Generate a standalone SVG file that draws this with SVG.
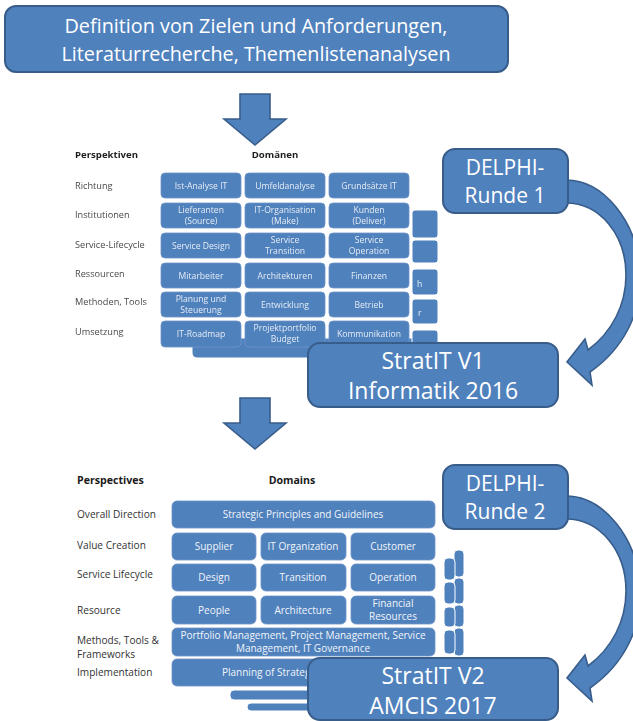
<svg xmlns="http://www.w3.org/2000/svg" width="633" height="721" viewBox="0 0 633 721">
  <style>
    .box { fill: #4F81BD; stroke: #385D8A; stroke-width: 2; }
    .btxt { font-family: "Open Sans", "Noto Sans", sans-serif; fill: #FFFFFF; text-anchor: middle; }
    .cell { fill: #4F81BD; stroke: #6F93C6; stroke-width: 0.8; }
    .ctxt { font-family: "Open Sans", "Noto Sans", sans-serif; fill: #E6ECF5; text-anchor: middle; font-size: 8.6px; }
    .ctxt2 { font-family: "Open Sans", "Noto Sans", sans-serif; fill: #F2F5FA; text-anchor: middle; font-size: 10px; }
    .lbl { font-family: "Open Sans", "Noto Sans", sans-serif; fill: #4A4A4A; font-size: 9.2px; }
    .lbl2 { font-family: "Open Sans", "Noto Sans", sans-serif; fill: #333333; font-size: 10.1px; }
    .head { font-family: "Open Sans", "Noto Sans", sans-serif; fill: #1F1F1F; font-size: 9.6px; font-weight: bold; }
    .head2 { font-family: "Open Sans", "Noto Sans", sans-serif; fill: #1A1A1A; font-size: 10.6px; font-weight: bold; }
    .arrow { fill: #4F81BD; stroke: #385D8A; stroke-width: 1.6; stroke-linejoin: miter; }
    .stack { fill: #4F81BD; stroke: #FFFFFF; stroke-width: 1; }
  </style>
  <defs>
    <!-- block arrow pointing down, origin at top centre of the shaft -->
    <path id="downArrow" d="M -15,0 L 15,0 L 15,25 L 31,25 L 0,51 L -31,25 L -15,25 Z"/>
    <!-- curved feedback arrow from a DELPHI round to its StratIT version -->
    <path id="loopArrow" d="M 566,180 C 604,180 636,222 640,268 C 644,312 622,350 590,372 L 592,385 L 567,362 L 585,339 L 588,350 C 612,332 626,305 626,275 C 626,235 600,203 566,203 Z"/>
    <!-- the older framework is a low-resolution screenshot -->
    <filter id="soft" x="-5%" y="-5%" width="110%" height="110%">
      <feGaussianBlur stdDeviation="0.35"/>
    </filter>
  </defs>

  <rect width="633" height="721" fill="#FFFFFF"/>

  <!-- connectors -->
  <g id="connectors">
    <use href="#downArrow" class="arrow" transform="translate(255,94)"/>
    <use href="#downArrow" class="arrow" transform="translate(255,398)"/>
    <use href="#loopArrow" class="arrow"/>
    <use href="#loopArrow" class="arrow" transform="translate(0,316)"/>
  </g>

  <!-- start node -->
  <g id="node-definition">
    <rect class="box" x="5" y="6" width="503" height="66" rx="11"/>
    <text class="btxt" x="256" y="33" font-size="20" textLength="383" lengthAdjust="spacingAndGlyphs">Definition von Zielen und Anforderungen,</text>
    <text class="btxt" x="256" y="61" font-size="20" textLength="389" lengthAdjust="spacingAndGlyphs">Literaturrecherche, Themenlistenanalysen</text>
  </g>

  <!-- framework version 1 (German) -->
  <g id="node-framework-v1" filter="url(#soft)">
    <!-- slides stacked behind -->
    <rect class="stack" x="192" y="338" width="240" height="20" rx="5"/>
    <rect class="stack" x="412" y="210" width="26" height="28" rx="3"/>
    <rect class="stack" x="412" y="240" width="26" height="23" rx="3"/>
    <rect class="stack" x="412" y="269" width="26" height="26" rx="3"/>
    <rect class="stack" x="412" y="299" width="26" height="25" rx="3"/>
    <rect class="stack" x="412" y="330" width="26" height="22" rx="3"/>
    <text class="ctxt" x="417" y="287" style="text-anchor:start">h</text>
    <text class="ctxt" x="418" y="316" style="text-anchor:start">r</text>

    <text class="head" x="75" y="158">Perspektiven</text>
    <text class="head" x="275" y="158" text-anchor="middle">Domänen</text>

    <text class="lbl" x="75" y="189">Richtung</text>
    <text class="lbl" x="75" y="218">Institutionen</text>
    <text class="lbl" x="75" y="248">Service-Lifecycle</text>
    <text class="lbl" x="75" y="277">Ressourcen</text>
    <text class="lbl" x="75" y="305">Methoden, Tools</text>
    <text class="lbl" x="75" y="335">Umsetzung</text>

    <rect class="cell" x="161" y="173" width="80" height="25" rx="4"/>
    <rect class="cell" x="245" y="173" width="80" height="25" rx="4"/>
    <rect class="cell" x="329" y="173" width="80" height="25" rx="4"/>
    <text class="ctxt" x="201" y="189">Ist-Analyse IT</text>
    <text class="ctxt" x="285" y="189">Umfeldanalyse</text>
    <text class="ctxt" x="369" y="189">Grundsätze IT</text>

    <rect class="cell" x="161" y="203" width="80" height="25" rx="4"/>
    <rect class="cell" x="245" y="203" width="80" height="25" rx="4"/>
    <rect class="cell" x="329" y="203" width="80" height="25" rx="4"/>
    <text class="ctxt" x="201" y="213">Lieferanten</text>
    <text class="ctxt" x="201" y="224">(Source)</text>
    <text class="ctxt" x="285" y="213">IT-Organisation</text>
    <text class="ctxt" x="285" y="224">(Make)</text>
    <text class="ctxt" x="369" y="213">Kunden</text>
    <text class="ctxt" x="369" y="224">(Deliver)</text>

    <rect class="cell" x="161" y="233" width="80" height="25" rx="4"/>
    <rect class="cell" x="245" y="233" width="80" height="25" rx="4"/>
    <rect class="cell" x="329" y="233" width="80" height="25" rx="4"/>
    <text class="ctxt" x="201" y="249">Service Design</text>
    <text class="ctxt" x="285" y="243">Service</text>
    <text class="ctxt" x="285" y="254">Transition</text>
    <text class="ctxt" x="369" y="243">Service</text>
    <text class="ctxt" x="369" y="254">Operation</text>

    <rect class="cell" x="161" y="263" width="80" height="25" rx="4"/>
    <rect class="cell" x="245" y="263" width="80" height="25" rx="4"/>
    <rect class="cell" x="329" y="263" width="80" height="25" rx="4"/>
    <text class="ctxt" x="201" y="279">Mitarbeiter</text>
    <text class="ctxt" x="285" y="279">Architekturen</text>
    <text class="ctxt" x="369" y="279">Finanzen</text>

    <rect class="cell" x="161" y="292" width="80" height="25" rx="4"/>
    <rect class="cell" x="245" y="292" width="80" height="25" rx="4"/>
    <rect class="cell" x="329" y="292" width="80" height="25" rx="4"/>
    <text class="ctxt" x="201" y="302">Planung und</text>
    <text class="ctxt" x="201" y="313">Steuerung</text>
    <text class="ctxt" x="285" y="308">Entwicklung</text>
    <text class="ctxt" x="369" y="308">Betrieb</text>

    <rect class="cell" x="161" y="321" width="80" height="26" rx="4"/>
    <rect class="cell" x="245" y="321" width="80" height="26" rx="4"/>
    <rect class="cell" x="329" y="321" width="80" height="26" rx="4"/>
    <text class="ctxt" x="201" y="337">IT-Roadmap</text>
    <text class="ctxt" x="285" y="331">Projektportfolio</text>
    <text class="ctxt" x="285" y="342">Budget</text>
    <text class="ctxt" x="369" y="337">Kommunikation</text>
  </g>

  <!-- framework version 2 (English) -->
  <g id="node-framework-v2">
    <!-- slides stacked behind -->
    <rect class="stack" x="230" y="690" width="110" height="10" rx="4"/>
    <rect class="stack" x="247" y="703" width="100" height="8" rx="4"/>
    <rect class="stack" x="454" y="550" width="10" height="27" rx="4"/>
    <rect class="stack" x="454" y="578" width="10" height="26" rx="4"/>
    <rect class="stack" x="454" y="605" width="10" height="22" rx="4"/>
    <rect class="stack" x="454" y="628" width="10" height="28" rx="4"/>
    <rect class="stack" x="444" y="558" width="11" height="22" rx="4"/>
    <rect class="stack" x="444" y="582" width="11" height="22" rx="4"/>
    <rect class="stack" x="444" y="607" width="11" height="20" rx="4"/>
    <rect class="stack" x="444" y="630" width="11" height="24" rx="4"/>

    <text class="head2" x="77" y="484">Perspectives</text>
    <text class="head2" x="292" y="484" text-anchor="middle">Domains</text>

    <text class="lbl2" x="77" y="518">Overall Direction</text>
    <text class="lbl2" x="77" y="549">Value Creation</text>
    <text class="lbl2" x="77" y="578">Service Lifecycle</text>
    <text class="lbl2" x="77" y="614">Resource</text>
    <text class="lbl2" x="77" y="644">Methods, Tools &amp;</text>
    <text class="lbl2" x="77" y="658">Frameworks</text>
    <text class="lbl2" x="77" y="676">Implementation</text>

    <rect class="cell" x="172" y="501" width="263" height="27" rx="5"/>
    <text class="ctxt2" x="303" y="518">Strategic Principles and Guidelines</text>

    <rect class="cell" x="172" y="533" width="84" height="27" rx="5"/>
    <rect class="cell" x="261" y="533" width="85" height="27" rx="5"/>
    <rect class="cell" x="351" y="533" width="84" height="27" rx="5"/>
    <text class="ctxt2" x="214" y="550">Supplier</text>
    <text class="ctxt2" x="303" y="550">IT Organization</text>
    <text class="ctxt2" x="393" y="550">Customer</text>

    <rect class="cell" x="172" y="564" width="84" height="27" rx="5"/>
    <rect class="cell" x="261" y="564" width="85" height="27" rx="5"/>
    <rect class="cell" x="351" y="564" width="84" height="27" rx="5"/>
    <text class="ctxt2" x="214" y="581">Design</text>
    <text class="ctxt2" x="303" y="581">Transition</text>
    <text class="ctxt2" x="393" y="581">Operation</text>

    <rect class="cell" x="172" y="596" width="84" height="28" rx="5"/>
    <rect class="cell" x="261" y="596" width="85" height="28" rx="5"/>
    <rect class="cell" x="351" y="596" width="84" height="28" rx="5"/>
    <text class="ctxt2" x="214" y="614">People</text>
    <text class="ctxt2" x="303" y="614">Architecture</text>
    <text class="ctxt2" x="393" y="607">Financial</text>
    <text class="ctxt2" x="393" y="620">Resources</text>

    <rect class="cell" x="172" y="628" width="263" height="28" rx="5"/>
    <text class="ctxt2" x="303" y="639">Portfolio Management, Project Management, Service</text>
    <text class="ctxt2" x="303" y="652">Management, IT Governance</text>

    <rect class="cell" x="172" y="659" width="263" height="27" rx="5"/>
    <text class="ctxt2" x="222" y="676" style="text-anchor:start">Planning of Strateg</text>
  </g>

  <!-- DELPHI rounds -->
  <g id="node-delphi-1">
    <rect class="box" x="443" y="149" width="125" height="64" rx="12"/>
    <text class="btxt" x="505" y="175" font-size="21">DELPHI-</text>
    <text class="btxt" x="505" y="203" font-size="21">Runde 1</text>
  </g>
  <g id="node-delphi-2">
    <rect class="box" x="443" y="465" width="125" height="64" rx="12"/>
    <text class="btxt" x="505" y="491" font-size="21">DELPHI-</text>
    <text class="btxt" x="505" y="519" font-size="21">Runde 2</text>
  </g>

  <!-- published versions -->
  <g id="node-stratit-v1">
    <rect class="box" x="308" y="343" width="250" height="64" rx="12"/>
    <text class="btxt" x="433" y="369" font-size="23">StratIT V1</text>
    <text class="btxt" x="433" y="399" font-size="23">Informatik 2016</text>
  </g>
  <g id="node-stratit-v2">
    <rect class="box" x="308" y="658" width="250" height="62" rx="12"/>
    <text class="btxt" x="433" y="684" font-size="23">StratIT V2</text>
    <text class="btxt" x="433" y="714" font-size="23">AMCIS 2017</text>
  </g>
</svg>
